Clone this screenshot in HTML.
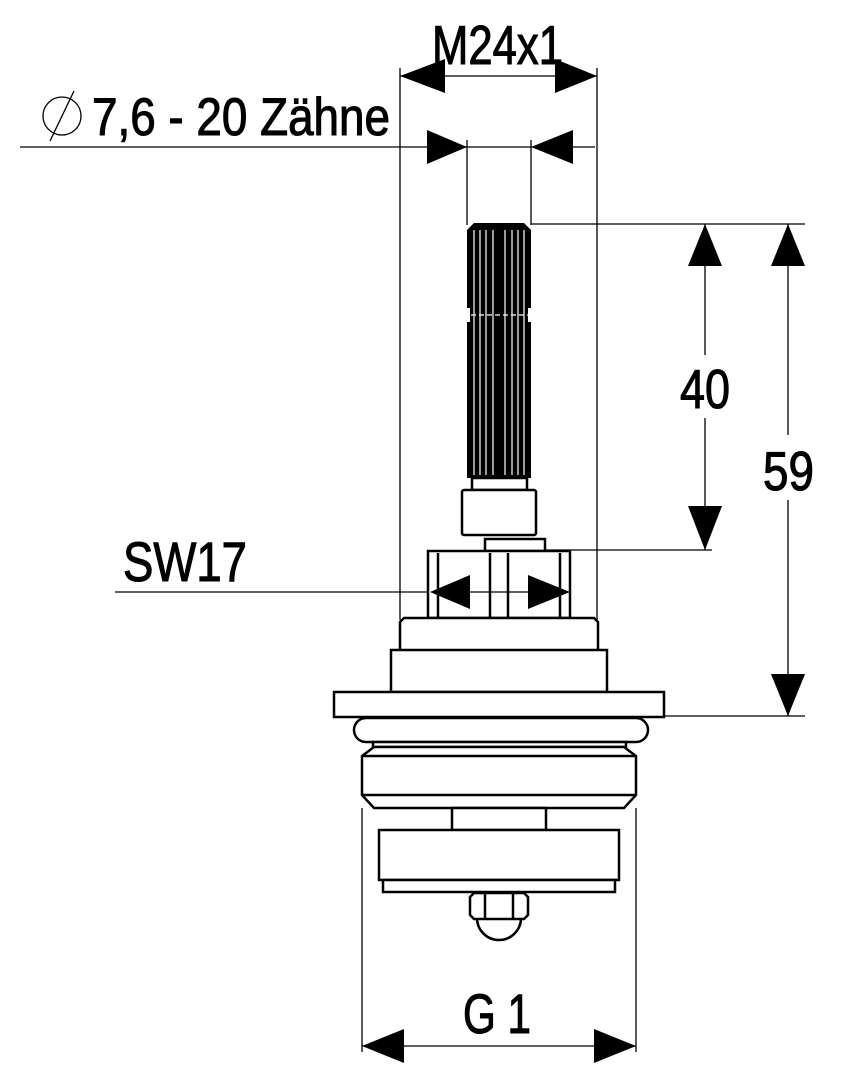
<!DOCTYPE html>
<html><head><meta charset="utf-8"><style>
html,body{margin:0;padding:0;background:#fff;width:848px;height:1080px;overflow:hidden}
svg text{font-family:"Liberation Sans",Arial,sans-serif;fill:#000;stroke:#000;stroke-width:1.1}
</style></head><body>
<svg width="848" height="1080" viewBox="0 0 848 1080" xmlns="http://www.w3.org/2000/svg">
<g stroke="#000" stroke-width="1.3" fill="none">
<line x1="400" y1="68" x2="400" y2="620"/>
<line x1="597" y1="68" x2="597" y2="620"/>
<line x1="467" y1="140" x2="467" y2="225"/>
<line x1="531" y1="140" x2="531" y2="225"/>
<line x1="20" y1="147" x2="595" y2="147"/>
<line x1="400" y1="76" x2="597" y2="76"/>
<line x1="531" y1="224" x2="805" y2="224"/>
<line x1="545" y1="550" x2="712" y2="550"/>
<line x1="664" y1="716" x2="805" y2="716"/>
<line x1="705" y1="224" x2="705" y2="355"/>
<line x1="705" y1="418" x2="705" y2="550"/>
<line x1="788" y1="224" x2="788" y2="435"/>
<line x1="788" y1="500" x2="788" y2="716"/>
<line x1="115" y1="592" x2="570" y2="592"/>
<line x1="362" y1="808" x2="362" y2="1052"/>
<line x1="636" y1="808" x2="636" y2="1052"/>
<line x1="362" y1="1046" x2="636" y2="1046"/>
</g>
<g fill="#000">
<polygon points="400,76 445,59 445,93"/>
<polygon points="597,76 555,59 555,93"/>
<polygon points="467,147 427,130 427,164"/>
<polygon points="531,147 573,130 573,164"/>
<polygon points="705,224 688,266 722,266"/>
<polygon points="705,550 688,506 722,506"/>
<polygon points="788,224 771,266 805,266"/>
<polygon points="788,716 771,674 805,674"/>
<polygon points="362,1046 404,1029 404,1063"/>
<polygon points="636,1046 594,1029 594,1063"/>
</g>
<g fill="#000">
<path d="M467,230 L474,223 L524,223 L531,230 L531,308 L467,308 Z"/>
<rect x="467" y="322" width="64" height="156"/>
<rect x="470" y="308" width="58" height="14"/>
</g>
<g stroke="#fff" stroke-width="1.2">
<line x1="474" y1="230" x2="474" y2="475"/><line x1="480" y1="230" x2="480" y2="475"/>
<line x1="486" y1="230" x2="486" y2="475"/><line x1="493" y1="230" x2="493" y2="475"/>
<line x1="505" y1="230" x2="505" y2="475"/><line x1="512" y1="230" x2="512" y2="475"/>
<line x1="518" y1="230" x2="518" y2="475"/><line x1="524" y1="230" x2="524" y2="475"/>
<line x1="471" y1="315" x2="528" y2="315" stroke-dasharray="5,3"/>
</g>
<g stroke="#000" stroke-width="2.5" fill="#fff">
<rect x="472" y="478" width="55" height="12"/>
<rect x="462" y="490" width="74" height="45" rx="2"/>
<rect x="485" y="539" width="60" height="12"/>
<rect x="428" y="551" width="142" height="67"/>
<line x1="438" y1="553" x2="438" y2="617"/>
<line x1="560" y1="553" x2="560" y2="617"/>
<line x1="490" y1="553" x2="490" y2="617"/>
<line x1="508" y1="553" x2="508" y2="617"/>
<path d="M400,650 L400,622 L404,618 L594,618 L598,622 L598,650"/>
<rect x="391" y="650" width="216" height="42"/>
<rect x="334" y="692" width="330" height="25"/>
<rect x="354" y="718" width="294" height="24" rx="12"/>
<rect x="373" y="742" width="253" height="5"/>
<path d="M374,747 L362,756 L362,795 L374,808 L624,808 L636,795 L636,756 L624,747 Z"/>
<line x1="362" y1="756" x2="636" y2="756"/>
<line x1="362" y1="795" x2="636" y2="795"/>
<rect x="452" y="808" width="94" height="22"/>
<rect x="379" y="830" width="240" height="50"/>
<rect x="383" y="880" width="232" height="12"/>
<path d="M477,918 A22,22 0 0 0 521,918"/>
<path d="M474,893 L524,893 L528,897 L528,915 L524,919 L474,919 L470,915 L470,897 Z"/>
<line x1="485" y1="893" x2="485" y2="919"/>
<line x1="513" y1="893" x2="513" y2="919"/>
</g>
<path d="M430,592 L470,575 L470,609 Z M570,592 L528,575 L528,609 Z" fill="#000"/>
<line x1="470" y1="592" x2="528" y2="592" stroke="#000" stroke-width="1.3"/>
<text x="432" y="64" font-size="55" textLength="131" lengthAdjust="spacingAndGlyphs">M24x1</text>
<circle cx="62" cy="116" r="19" fill="none" stroke="#000" stroke-width="1.3"/>
<line x1="50" y1="141" x2="74" y2="91" stroke="#000" stroke-width="1.3"/>
<text x="92" y="135" font-size="53" textLength="298" lengthAdjust="spacingAndGlyphs">7,6 - 20 Zähne</text>
<text x="680" y="408" font-size="55" textLength="50" lengthAdjust="spacingAndGlyphs">40</text>
<text x="763" y="490" font-size="55" textLength="51" lengthAdjust="spacingAndGlyphs">59</text>
<text x="123" y="581" font-size="56" textLength="124" lengthAdjust="spacingAndGlyphs">SW17</text>
<text x="463" y="1033" font-size="56" textLength="68" lengthAdjust="spacingAndGlyphs">G 1</text>
</svg>
</body></html>
